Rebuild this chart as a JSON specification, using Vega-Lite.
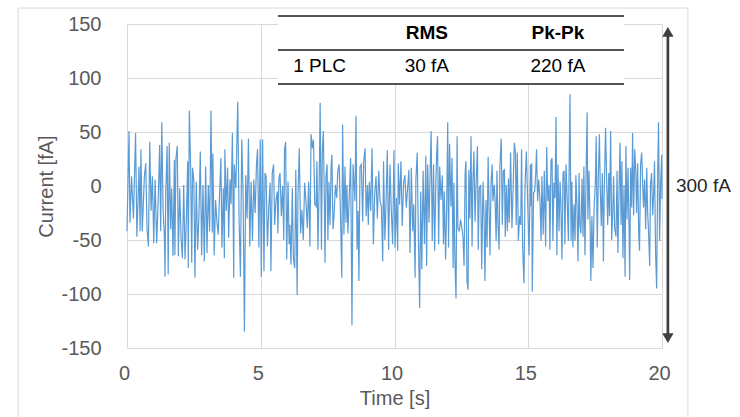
{
  "$schema": "https://vega.github.io/schema/vega-lite/v6.json",
  "width": 535,
  "height": 324,
  "autosize": {"type": "none"},
  "padding": {"left": 127, "top": 24, "right": 78, "bottom": 69},
  "background": "white",
  "config": {
    "view": {"stroke": null},
    "font": "Liberation Sans",
    "axis": {
      "domain": false,
      "ticks": false,
      "tickSize": 0,
      "labelFlush": false,
      "gridColor": "#d9d9d9",
      "gridWidth": 1,
      "labelColor": "#595959",
      "labelFontSize": 20,
      "labelFont": "Liberation Sans",
      "titleColor": "#595959",
      "titleFontSize": 20,
      "titleFont": "Liberation Sans",
      "titleFontWeight": "normal"
    }
  },
  "datasets": {
    "noise": [
      {"t":0,"v":-42},{"t":0.075,"v":51},{"t":0.11,"v":-34},{"t":0.17,"v":9},{"t":0.24,"v":-30},{"t":0.32,"v":49},{"t":0.37,"v":-47},{"t":0.45,"v":18},{"t":0.49,"v":-42},{"t":0.52,"v":34},{"t":0.57,"v":-42},{"t":0.65,"v":9},{"t":0.70,"v":21},{"t":0.75,"v":-40},{"t":0.80,"v":-56},{"t":0.85,"v":41},{"t":0.90,"v":-23},{"t":0.95,"v":9},{"t":1.00,"v":-53},{"t":1.05,"v":6},{"t":1.11,"v":-53},{"t":1.17,"v":-10},{"t":1.22,"v":38},{"t":1.26,"v":-42},{"t":1.30,"v":59},{"t":1.35,"v":-22},{"t":1.40,"v":-48},{"t":1.42,"v":-84},{"t":1.45,"v":-5},{"t":1.50,"v":37},{"t":1.54,"v":-82},{"t":1.58,"v":40},{"t":1.63,"v":-40},{"t":1.67,"v":-2},{"t":1.72,"v":-65},{"t":1.77,"v":24},{"t":1.79,"v":-64},{"t":1.83,"v":26},{"t":1.88,"v":37},{"t":1.92,"v":-65},{"t":1.97,"v":-2},{"t":2.02,"v":-47},{"t":2.07,"v":-67},{"t":2.12,"v":1},{"t":2.17,"v":-68},{"t":2.22,"v":-30},{"t":2.27,"v":23},{"t":2.29,"v":-76},{"t":2.33,"v":70},{"t":2.38,"v":17},{"t":2.42,"v":-71},{"t":2.45,"v":17},{"t":2.50,"v":5},{"t":2.54,"v":-85},{"t":2.59,"v":4},{"t":2.64,"v":-59},{"t":2.69,"v":-27},{"t":2.74,"v":32},{"t":2.79,"v":-64},{"t":2.84,"v":1},{"t":2.89,"v":-70},{"t":2.94,"v":18},{"t":2.99,"v":-62},{"t":3.04,"v":1},{"t":3.09,"v":-42},{"t":3.14,"v":70},{"t":3.19,"v":-43},{"t":3.21,"v":30},{"t":3.26,"v":-64},{"t":3.31,"v":-13},{"t":3.36,"v":-33},{"t":3.41,"v":-45},{"t":3.46,"v":-8},{"t":3.51,"v":26},{"t":3.55,"v":-57},{"t":3.60,"v":-2},{"t":3.64,"v":-67},{"t":3.66,"v":34},{"t":3.71,"v":-23},{"t":3.76,"v":17},{"t":3.80,"v":-48},{"t":3.85,"v":6},{"t":3.89,"v":-17},{"t":3.94,"v":49},{"t":3.99,"v":-85},{"t":4.01,"v":20},{"t":4.07,"v":-2},{"t":4.14,"v":78},{"t":4.19,"v":-31},{"t":4.24,"v":-84},{"t":4.29,"v":43},{"t":4.34,"v":-8},{"t":4.39,"v":-135},{"t":4.44,"v":10},{"t":4.49,"v":-30},{"t":4.54,"v":44},{"t":4.59,"v":-56},{"t":4.64,"v":4},{"t":4.69,"v":-51},{"t":4.74,"v":6},{"t":4.79,"v":-25},{"t":4.84,"v":20},{"t":4.88,"v":34},{"t":4.93,"v":-57},{"t":4.98,"v":43},{"t":5.02,"v":-84},
      {"t":5.07,"v":43},{"t":5.12,"v":-79},{"t":5.16,"v":12},{"t":5.20,"v":9},{"t":5.25,"v":-56},{"t":5.30,"v":-20},{"t":5.35,"v":3},{"t":5.38,"v":-79},{"t":5.43,"v":12},{"t":5.48,"v":20},{"t":5.52,"v":-36},{"t":5.57,"v":-13},{"t":5.62,"v":-5},{"t":5.64,"v":-44},{"t":5.68,"v":7},{"t":5.72,"v":12},{"t":5.77,"v":-28},{"t":5.82,"v":0},{"t":5.86,"v":-50},{"t":5.89,"v":34},{"t":5.93,"v":41},{"t":5.97,"v":-68},{"t":6.02,"v":4},{"t":6.06,"v":-54},{"t":6.09,"v":-36},{"t":6.13,"v":-73},{"t":6.18,"v":-2},{"t":6.22,"v":-67},{"t":6.27,"v":-76},{"t":6.31,"v":15},{"t":6.36,"v":-101},{"t":6.39,"v":-10},{"t":6.44,"v":35},{"t":6.49,"v":-44},{"t":6.54,"v":-22},{"t":6.59,"v":-50},{"t":6.64,"v":3},{"t":6.69,"v":-14},{"t":6.74,"v":-39},{"t":6.79,"v":4},{"t":6.84,"v":-56},{"t":6.88,"v":48},{"t":6.93,"v":35},{"t":6.97,"v":43},{"t":7.02,"v":-17},{"t":7.07,"v":-19},{"t":7.10,"v":23},{"t":7.14,"v":-59},{"t":7.19,"v":12},{"t":7.22,"v":77},{"t":7.27,"v":-59},{"t":7.30,"v":32},{"t":7.34,"v":51},{"t":7.38,"v":-17},{"t":7.40,"v":-71},{"t":7.44,"v":9},{"t":7.48,"v":20},{"t":7.51,"v":-50},{"t":7.55,"v":4},{"t":7.59,"v":-36},{"t":7.63,"v":17},{"t":7.66,"v":29},{"t":7.70,"v":-40},{"t":7.74,"v":-28},{"t":7.79,"v":1},{"t":7.84,"v":-11},{"t":7.88,"v":14},{"t":7.93,"v":20},{"t":7.98,"v":-25},{"t":8.03,"v":-85},{"t":8.06,"v":57},{"t":8.11,"v":-45},{"t":8.15,"v":18},{"t":8.19,"v":-34},{"t":8.22,"v":1},{"t":8.26,"v":-44},{"t":8.31,"v":-8},{"t":8.36,"v":26},{"t":8.41,"v":-129},{"t":8.45,"v":20},{"t":8.49,"v":1},{"t":8.52,"v":-14},{"t":8.56,"v":65},{"t":8.60,"v":-59},{"t":8.64,"v":-23},{"t":8.67,"v":-88},{"t":8.71,"v":18},{"t":8.76,"v":20},{"t":8.81,"v":-33},{"t":8.85,"v":24},{"t":8.90,"v":35},{"t":8.94,"v":-28},{"t":8.99,"v":1},{"t":9.02,"v":-36},{"t":9.06,"v":4},{"t":9.11,"v":-23},{"t":9.16,"v":35},{"t":9.21,"v":-54},{"t":9.26,"v":-8},{"t":9.31,"v":9},{"t":9.36,"v":-30},{"t":9.41,"v":14},{"t":9.46,"v":-14},{"t":9.51,"v":-19},{"t":9.56,"v":-70},{"t":9.59,"v":23},{"t":9.64,"v":-50},{"t":9.68,"v":-19},{"t":9.73,"v":33},{"t":9.78,"v":-59},{"t":9.83,"v":20},{"t":9.88,"v":-22},{"t":9.93,"v":-54},{"t":9.98,"v":33},{"t":10.02,"v":-57},{"t":10.07,"v":-11},
      {"t":10.12,"v":-60},{"t":10.14,"v":21},{"t":10.19,"v":-17},{"t":10.24,"v":23},{"t":10.29,"v":-37},{"t":10.34,"v":3},{"t":10.39,"v":10},{"t":10.44,"v":-20},{"t":10.49,"v":-2},{"t":10.54,"v":15},{"t":10.58,"v":-62},{"t":10.63,"v":17},{"t":10.68,"v":-42},{"t":10.72,"v":-17},{"t":10.77,"v":-85},{"t":10.80,"v":6},{"t":10.85,"v":31},{"t":10.89,"v":-44},{"t":10.94,"v":-113},{"t":10.98,"v":-5},{"t":11.02,"v":-77},{"t":11.07,"v":14},{"t":11.12,"v":-54},{"t":11.17,"v":28},{"t":11.20,"v":-74},{"t":11.24,"v":20},{"t":11.29,"v":-34},{"t":11.33,"v":10},{"t":11.37,"v":51},{"t":11.41,"v":-51},{"t":11.46,"v":20},{"t":11.50,"v":-60},{"t":11.55,"v":7},{"t":11.58,"v":31},{"t":11.61,"v":46},{"t":11.65,"v":-54},{"t":11.69,"v":18},{"t":11.74,"v":-13},{"t":11.79,"v":10},{"t":11.83,"v":-54},{"t":11.86,"v":-5},{"t":11.91,"v":-68},{"t":11.95,"v":-19},{"t":11.99,"v":59},{"t":12.02,"v":-57},{"t":12.06,"v":39},{"t":12.11,"v":-19},{"t":12.15,"v":26},{"t":12.19,"v":-76},{"t":12.22,"v":3},{"t":12.26,"v":-70},{"t":12.30,"v":-104},{"t":12.34,"v":46},{"t":12.37,"v":-39},{"t":12.42,"v":-42},{"t":12.47,"v":-31},{"t":12.52,"v":-39},{"t":12.56,"v":-47},{"t":12.60,"v":-74},{"t":12.64,"v":12},{"t":12.67,"v":23},{"t":12.71,"v":-88},{"t":12.75,"v":-96},{"t":12.78,"v":15},{"t":12.82,"v":-30},{"t":12.86,"v":46},{"t":12.90,"v":-56},{"t":12.93,"v":4},{"t":12.97,"v":32},{"t":13.01,"v":-33},{"t":13.05,"v":3},{"t":13.10,"v":37},{"t":13.13,"v":-59},{"t":13.17,"v":-2},{"t":13.22,"v":1},{"t":13.26,"v":-77},{"t":13.31,"v":4},{"t":13.35,"v":-30},{"t":13.38,"v":-88},{"t":13.42,"v":-13},{"t":13.46,"v":-57},{"t":13.50,"v":27},{"t":13.53,"v":-13},{"t":13.57,"v":-64},{"t":13.61,"v":3},{"t":13.65,"v":20},{"t":13.68,"v":-14},{"t":13.73,"v":1},{"t":13.76,"v":-13},{"t":13.80,"v":-51},{"t":13.83,"v":14},{"t":13.87,"v":-36},{"t":13.91,"v":-59},{"t":13.94,"v":18},{"t":13.99,"v":44},{"t":14.03,"v":-36},{"t":14.07,"v":14},{"t":14.11,"v":15},{"t":14.14,"v":-47},{"t":14.18,"v":1},{"t":14.22,"v":-42},{"t":14.26,"v":7},{"t":14.29,"v":-34},{"t":14.34,"v":31},{"t":14.39,"v":-39},{"t":14.44,"v":3},{"t":14.48,"v":40},{"t":14.52,"v":31},{"t":14.55,"v":-36},{"t":14.59,"v":31},{"t":14.63,"v":-51},{"t":14.68,"v":-28},{"t":14.72,"v":-36},{"t":14.75,"v":34},{"t":14.79,"v":-57},{"t":14.84,"v":-90},{"t":14.88,"v":1},{"t":14.93,"v":32},{"t":14.98,"v":-16},{"t":15.03,"v":-64},{"t":15.08,"v":20},{"t":15.11,"v":-19},{"t":15.13,"v":21},{"t":15.15,"v":-98},
      {"t":15.20,"v":-6},{"t":15.24,"v":-5},{"t":15.28,"v":12},{"t":15.31,"v":34},{"t":15.35,"v":-14},{"t":15.39,"v":6},{"t":15.44,"v":-14},{"t":15.48,"v":-51},{"t":15.51,"v":9},{"t":15.56,"v":-45},{"t":15.60,"v":14},{"t":15.65,"v":-56},{"t":15.69,"v":36},{"t":15.73,"v":-14},{"t":15.78,"v":1},{"t":15.81,"v":-59},{"t":15.85,"v":23},{"t":15.89,"v":26},{"t":15.92,"v":-51},{"t":15.96,"v":3},{"t":16.00,"v":-11},{"t":16.04,"v":64},{"t":16.07,"v":-64},{"t":16.11,"v":20},{"t":16.15,"v":-42},{"t":16.19,"v":4},{"t":16.22,"v":-17},{"t":16.26,"v":-68},{"t":16.30,"v":12},{"t":16.34,"v":14},{"t":16.37,"v":-54},{"t":16.41,"v":20},{"t":16.45,"v":-8},{"t":16.50,"v":-51},{"t":16.53,"v":21},{"t":16.56,"v":85},{"t":16.60,"v":-51},{"t":16.63,"v":4},{"t":16.67,"v":-57},{"t":16.71,"v":-17},{"t":16.75,"v":-51},{"t":16.78,"v":10},{"t":16.82,"v":-17},{"t":16.86,"v":-70},{"t":16.90,"v":12},{"t":16.93,"v":-36},{"t":16.97,"v":-44},{"t":17.01,"v":7},{"t":17.05,"v":-47},{"t":17.08,"v":18},{"t":17.12,"v":-64},{"t":17.16,"v":6},{"t":17.20,"v":68},{"t":17.23,"v":-31},{"t":17.27,"v":14},{"t":17.31,"v":-33},{"t":17.34,"v":-88},{"t":17.38,"v":-28},{"t":17.42,"v":-76},{"t":17.46,"v":-22},{"t":17.51,"v":4},{"t":17.54,"v":46},{"t":17.58,"v":-57},{"t":17.62,"v":10},{"t":17.66,"v":48},{"t":17.69,"v":1},{"t":17.73,"v":-37},{"t":17.77,"v":12},{"t":17.81,"v":-70},{"t":17.84,"v":-5},{"t":17.89,"v":54},{"t":17.93,"v":7},{"t":17.97,"v":-36},{"t":18.01,"v":12},{"t":18.04,"v":-28},{"t":18.08,"v":51},{"t":18.12,"v":-50},{"t":18.16,"v":-23},{"t":18.19,"v":9},{"t":18.23,"v":-39},{"t":18.28,"v":-47},{"t":18.32,"v":14},{"t":18.35,"v":-62},{"t":18.39,"v":-10},{"t":18.43,"v":40},{"t":18.47,"v":-36},{"t":18.50,"v":23},{"t":18.54,"v":-67},{"t":18.58,"v":1},{"t":18.62,"v":-84},{"t":18.65,"v":37},{"t":18.69,"v":-31},{"t":18.73,"v":17},{"t":18.77,"v":-42},{"t":18.79,"v":-87},{"t":18.83,"v":17},{"t":18.87,"v":-20},{"t":18.90,"v":49},{"t":18.94,"v":-27},{"t":18.98,"v":34},{"t":19.02,"v":14},{"t":19.05,"v":-25},{"t":19.09,"v":21},{"t":19.13,"v":-45},{"t":19.16,"v":-60},{"t":19.20,"v":20},{"t":19.24,"v":31},{"t":19.28,"v":1},{"t":19.31,"v":-20},{"t":19.35,"v":6},{"t":19.39,"v":-40},{"t":19.43,"v":17},{"t":19.46,"v":-22},{"t":19.50,"v":-44},{"t":19.54,"v":-74},{"t":19.57,"v":1},{"t":19.61,"v":12},{"t":19.65,"v":-27},{"t":19.69,"v":-6},{"t":19.72,"v":23},{"t":19.76,"v":-62},{"t":19.80,"v":-95},{"t":19.84,"v":14},{"t":19.87,"v":59},{"t":19.91,"v":-51},{"t":19.95,"v":4},{"t":19.99,"v":29},{"t":20.00,"v":-12}
    ],
    "frame": [{"t": -4.07, "t2": 20.97, "v": 164.8, "v2": -260}],
    "tableBox": [{"t": 5.645, "t2": 18.58, "v": 157.4, "v2": 94.4}],
    "tableLines": [
      {"t": 5.645, "t2": 18.58, "v": 157.4},
      {"t": 5.645, "t2": 18.58, "v": 126},
      {"t": 5.645, "t2": 18.58, "v": 94.4}
    ],
    "tableHead": [
      {"t": 11.21, "v": 142, "label": "RMS"},
      {"t": 16.11, "v": 142, "label": "Pk-Pk"}
    ],
    "tableBody": [
      {"t": 7.2, "v": 111.4, "label": "1 PLC"},
      {"t": 11.21, "v": 111.4, "label": "30 fA"},
      {"t": 16.11, "v": 111.4, "label": "220 fA"}
    ],
    "span": [{"t": 20.22, "v": 142.7, "v2": -140.8}],
    "spanTop": [{"t": 20.22, "v": 142.7}],
    "spanBottom": [{"t": 20.22, "v": -140.8}],
    "spanLabel": [{"t": 20.52, "v": 0, "label": "300 fA"}]
  },
  "encoding": {
    "x": {
      "field": "t",
      "type": "quantitative",
      "scale": {"domain": [0, 20], "nice": false, "zero": false},
      "axis": {"title": "Time [s]", "values": [0, 5, 10, 15, 20], "labelPadding": 15, "labelOffset": -3, "titlePadding": 5}
    },
    "y": {
      "field": "v",
      "type": "quantitative",
      "scale": {"domain": [-150, 150], "nice": false, "zero": false},
      "axis": {
        "title": "Current [fA]",
        "values": [-150, -100, -50, 0, 50, 100, 150],
        "labelExpr": "replace(datum.label, '\u2212', '-')",
        "labelPadding": 26,
        "titlePadding": 4
      }
    }
  },
  "layer": [
    {
      "data": {"name": "frame"},
      "mark": {"type": "rect", "filled": false, "color": "#d9d9d9", "strokeWidth": 1},
      "encoding": {"x2": {"field": "t2"}, "y2": {"field": "v2"}}
    },
    {
      "data": {"name": "noise"},
      "mark": {"type": "line", "color": "#5b9bd5", "strokeWidth": 1.2}
    },
    {
      "data": {"name": "tableBox"},
      "mark": {"type": "rect", "color": "white"},
      "encoding": {"x2": {"field": "t2"}, "y2": {"field": "v2"}}
    },
    {
      "data": {"name": "tableLines"},
      "mark": {"type": "rule", "color": "#1a1a1a", "strokeWidth": 1.5},
      "encoding": {"x2": {"field": "t2"}}
    },
    {
      "data": {"name": "tableHead"},
      "mark": {"type": "text", "fontSize": 19, "fontWeight": "bold", "color": "#000000", "align": "center", "baseline": "middle"},
      "encoding": {"text": {"field": "label"}}
    },
    {
      "data": {"name": "tableBody"},
      "mark": {"type": "text", "fontSize": 19, "color": "#000000", "align": "center", "baseline": "middle"},
      "encoding": {"text": {"field": "label"}}
    },
    {
      "data": {"name": "span"},
      "mark": {"type": "rule", "color": "#404040", "strokeWidth": 2.7},
      "encoding": {"y2": {"field": "v2"}}
    },
    {
      "data": {"name": "spanTop"},
      "mark": {"type": "point", "shape": "triangle-up", "filled": true, "color": "#404040", "size": 130, "opacity": 1}
    },
    {
      "data": {"name": "spanBottom"},
      "mark": {"type": "point", "shape": "triangle-down", "filled": true, "color": "#404040", "size": 130, "opacity": 1}
    },
    {
      "data": {"name": "spanLabel"},
      "mark": {"type": "text", "fontSize": 19, "color": "#262626", "align": "left", "baseline": "middle"},
      "encoding": {"text": {"field": "label"}}
    }
  ]
}
